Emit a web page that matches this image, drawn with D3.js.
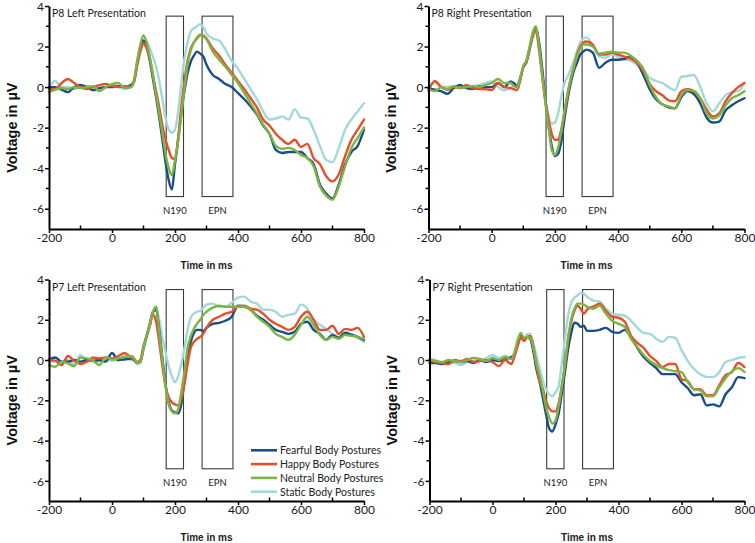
<!DOCTYPE html>
<html><head><meta charset="utf-8">
<script src="https://cdn.jsdelivr.net/npm/d3@7"></script>
<style>body{margin:0;background:#fff;} svg{display:block;}</style>
</head><body><svg id="chart" width="755" height="543"></svg>
<script>
// ---------- DATA ----------
const times = [-200,-180,-160,-140,-120,-100,-80,-60,-40,-20,0,20,40,60,70,80,90,100,110,120,130,140,150,160,170,180,190,200,210,220,230,240,250,260,270,280,290,300,320,340,360,380,400,420,440,460,480,500,520,540,560,580,600,620,640,660,680,700,720,740,760,780,800];

const seriesNames = ["Fearful Body Postures","Happy Body Postures","Neutral Body Postures","Static Body Postures"];
const panelTitles = ["P8 Left Presentation","P8 Right Presentation","P7 Left Presentation","P7 Right Presentation"];
const xTickValues = [-200,0,200,400,600,800];
const xMinorTicks = [-100,100,300,500,700];
const yTickValues = [4,2,0,-2,-4,-6];
const yMinorTicks = [3,1,-1,-3,-5];
const windowNames = ["N190","EPN"];
const n190Window = [172,227];
const epnWindow = [286,384];
const windowVoltage = [-5.4,3.5];

const p8LeftFearful = [0,0,-0.13,-0.25,0,0.1,0,-0.15,-0.05,0,0,0.05,0,0.1, 0.3,1.2,1.9,2.3,2.0,1.3,0.4,-0.5,-1.5,-2.6, -3.7,-4.6,-5.05,-3.8,-2.6,-1.25,-0.2,0.7,1.25,1.55, 1.75,1.65,1.5,1.1, 0.6,0.4,0.15,0.0,-0.3, -0.6,-0.95,-1.35,-1.9,-2.3, -3.1,-3.25,-3.2,-3.2,-3.2, -3.5,-3.8,-4.8,-5.25,-5.5, -4.8,-3.8,-3.2,-2.9,-2.1];
const p8LeftHappy = [-0.1,-0.1,0.2,0.4,0.2,0,-0.1,0,0.1,0.15,0.05,0,0.05,0, 0.3,1.1,1.8,2.15,1.9,1.4,0.6,-0.2,-1.0,-1.9, -2.6,-3.1,-3.5,-3.55,-2.5,-1.0,0.3,1.3,1.9,2.2, 2.4,2.55,2.55,2.4, 1.9,1.55,1.1,0.7,0.3, -0.1,-0.55,-1.0,-1.6,-1.9, -2.3,-2.6,-2.8,-2.6,-2.95, -2.8,-3.5,-3.8,-4.4,-4.65, -4.3,-3.4,-2.6,-2.1,-1.6];
const p8LeftNeutral = [-0.25,-0.13,-0.05,-0.1,0,-0.05,0,0.05,-0.2,0,0.15,0.2,-0.05,0, 0.35,1.3,2.1,2.55,2.2,1.5,0.6,-0.4,-1.3,-2.3, -3.3,-4.0,-4.35,-3.6,-2.7,-1.4,-0.1,1.1,1.8,2.2, 2.45,2.6,2.5,2.35, 1.75,1.35,1.0,0.6,0.2, -0.3,-0.8,-1.3,-1.85,-2.3, -2.9,-3.05,-3.0,-3.1,-3.35, -3.5,-3.9,-4.9,-5.35,-5.55, -4.9,-3.9,-3.0,-2.5,-2.0];
const p8LeftStatic = [0,0.3,0,0,-0.1,0,0.05,0,-0.1,0,0.1,0.03,-0.1,0, 0.2,1.0,1.7,2.1,2.25,1.9,1.5,1.0,0.3,-0.6, -1.5,-2.1,-2.25,-2.1,-1.2,0.2,1.4,2.2,2.75,2.9, 3.0,3.1,2.95,2.65, 2.4,2.3,1.85,1.3,0.9, 0.4,-0.1,-0.6,-1.2,-1.6, -1.55,-1.45,-1.6,-1.1,-1.5, -1.55,-2.1,-2.9,-3.6,-3.7, -3.0,-2.1,-1.6,-1.2,-0.8];

const p8RightFearful = [-0.05,-0.13,-0.2,-0.33,-0.05,0.1,-0.05,-0.1,0.03,0,0,0.2,0,0.28, 0.2,0.05,0.4,1.0,1.25,1.9,2.6,2.9,2.2,0.9, -0.6,-1.9,-2.9,-3.4,-3.3,-2.7,-1.6,-0.6,0.2,0.8, 1.2,1.6,1.75,1.85, 1.7,0.95,1.2,1.35,1.35, 1.4,1.5,1.2,0.6,-0.1, -0.6,-0.85,-1.0,-1.05,-0.5, -0.2,-0.35,-0.8,-1.5,-1.75, -1.7,-1.15,-0.9,-0.7,-0.55];
const p8RightHappy = [-0.2,0.3,0,-0.13,0,-0.05,0.1,-0.05,-0.1,-0.1,-0.15,0.2,0,-0.05, -0.1,-0.15,0.3,1.0,1.3,1.9,2.55,2.8,1.8,0.5, -0.7,-1.6,-2.3,-2.6,-2.6,-2.1,-1.3,-0.4,0.4,1.0, 1.6,2.0,2.2,2.25, 2.1,1.6,1.6,1.7,1.6, 1.5,1.4,1.2,0.8,0.15, -0.2,-0.4,-0.65,-0.7,-0.2, -0.1,-0.2,-0.55,-1.1,-1.45, -1.3,-0.7,-0.3,0.0,0.2];
const p8RightNeutral = [-0.13,-0.2,0,-0.1,0.05,-0.05,0,0.05,0,0.1,0.2,0.4,0.2,0.2, 0.05,0.0,0.4,1.05,1.3,2.0,2.7,3.0,2.0,0.6, -0.8,-2.0,-3.1,-3.35,-3.0,-2.2,-1.2,-0.3,0.4,1.0, 1.5,1.9,2.1,2.1, 2.0,1.65,1.7,1.75,1.7, 1.7,1.55,1.3,0.9,0.1, -0.5,-0.85,-0.95,-1.05,-0.4, -0.15,-0.2,-0.55,-1.3,-1.55, -1.4,-0.9,-0.55,-0.4,-0.2];
const p8RightStatic = [0.05,0.2,0.03,0,0.05,0,0.03,0.03,0.1,0.2,0.28,0,-0.15,-0.05, 0.1,0.1,0.5,0.95,1.2,1.8,2.4,2.7,2.0,0.7, -0.6,-1.4,-1.8,-1.75,-1.3,-0.5,0.2,0.5,0.9,1.3, 1.8,2.2,2.4,2.45, 2.05,1.5,1.45,1.6,1.5, 1.35,1.3,1.1,0.85,0.45, 0.3,0.2,0.0,-0.15,0.5, 0.55,0.6,0.0,-0.8,-1.2, -0.8,-0.4,-0.25,-0.2,0.2];

const p7LeftFearful = [0.03,0.13,-0.08,-0.08,0,-0.08,0,-0.03,0,-0.08,0.35,0,0.03,0.08, 0.0,-0.15,-0.1,0.6,1.2,1.8,2.4,2.5,1.5,0.1, -1.2,-2.1,-2.5,-2.6,-2.65,-2.2,-1.0,0.2,0.9,1.35, 1.5,1.5,1.45,1.6, 1.8,1.85,1.95,2.15,2.7, 2.65,2.5,2.2,2.0,1.75, 1.5,1.4,1.3,1.4,1.8, 1.9,1.5,1.3,1.0,1.25, 1.1,1.35,1.25,1.15,1.0];
const p7LeftHappy = [0,-0.03,-0.25,0.2,-0.03,-0.2,-0.08,0.13,0.08,0.13,0.08,0.2,0.35,0.13, 0.05,-0.1,0.0,0.7,1.2,1.7,2.25,1.9,0.9,-0.3, -1.3,-1.85,-2.1,-2.2,-2.25,-1.95,-1.2,-0.2,0.6,0.9, 1.05,1.15,1.3,1.6, 2.0,2.15,2.3,2.4,2.65, 2.7,2.55,2.5,2.3,2.0, 1.8,1.65,1.5,1.65,2.15, 2.4,2.0,1.5,1.5,1.7, 1.3,1.55,1.5,1.6,1.15];
const p7LeftNeutral = [-0.25,-0.33,-0.08,-0.17,-0.3,0.13,0.08,-0.03,-0.25,0.13,0.03,0.08,0.17,0.2, 0.1,-0.15,-0.1,0.6,1.2,1.8,2.4,2.65,1.4,0.0, -1.3,-2.2,-2.55,-2.65,-2.45,-1.6,-0.55,0.6,1.2,1.55, 1.8,2.0,2.25,2.4, 2.6,2.7,2.65,2.65,2.65, 2.65,2.5,2.15,1.9,1.65, 1.3,1.15,1.0,1.25,1.75, 2.15,1.75,1.25,1.0,1.15, 1.05,1.25,1.2,1.15,1.05];
const p7LeftStatic = [-0.08,-0.08,-0.13,0,-0.2,0.25,-0.08,0,-0.08,0,-0.03,0,0.13,0, 0.0,-0.2,-0.1,0.5,1.1,1.7,2.3,2.55,2.0,1.1, 0.4,-0.3,-0.8,-1.1,-0.8,-0.2,0.6,1.5,2.1,2.3, 2.4,2.45,2.6,2.75, 2.8,2.65,2.65,2.85,3.1, 3.15,2.9,2.8,2.5,2.5, 2.4,2.15,2.25,2.3,2.75, 2.55,2.0,1.75,1.55,1.3, 1.15,1.4,1.3,1.1,0.9];

const p7RightFearful = [-0.15,-0.15,-0.2,-0.1,-0.05,-0.1,-0.05,-0.15,0.0,-0.1,0.0,-0.05,0.05,0.15, 0.3,0.8,1.2,1.0,1.15,1.05,0.4,-0.5,-1.1,-1.9, -2.7,-3.4,-3.55,-3.2,-2.65,-1.65,-0.6,0.55,1.35,1.85, 1.8,1.65,1.7,1.45, 1.45,1.5,1.6,1.4,1.35, 1.5,1.1,0.6,0.15,-0.15, -0.4,-0.7,-0.7,-0.7,-1.1, -1.4,-1.75,-1.7,-2.25,-2.2, -2.3,-1.7,-1.35,-0.85,-0.9];
const p7RightHappy = [0.0,-0.1,-0.15,-0.2,0.0,-0.05,0.05,-0.1,-0.05,0.0,-0.1,-0.3,0.0,-0.2, 0.2,0.7,1.15,0.95,1.15,1.2,0.65,-0.3,-1.1,-1.45, -2.05,-2.4,-2.55,-2.55,-2.15,-1.3,-0.25,1.0,1.9,2.45, 2.7,2.55,2.3,2.5, 2.65,2.8,2.45,2.15,2.1, 1.9,1.2,0.85,0.6,0.2, -0.05,-0.35,-0.2,-0.2,-0.95, -1.05,-1.45,-1.45,-1.75,-1.75, -1.25,-0.75,-0.6,-0.15,-0.35];
const p7RightNeutral = [0.0,-0.05,-0.1,0.0,-0.05,-0.1,0.0,0.1,0.05,-0.05,0.1,0.0,0.15,0.05, 0.4,1.0,1.35,1.1,1.15,1.1,0.6,-0.2,-0.8,-1.55, -2.35,-2.85,-3.15,-3.0,-2.3,-1.3,-0.2,1.1,2.05,2.55, 2.8,2.8,2.75,2.65, 2.55,2.7,2.3,1.95,1.8, 1.65,1.05,0.65,0.25,-0.05, -0.25,-0.4,-0.5,-0.55,-0.6, -1.1,-1.45,-1.5,-1.8,-1.8, -1.35,-0.9,-0.55,-0.4,-0.6];
const p7RightStatic = [0.05,0.0,-0.2,-0.1,-0.15,-0.25,-0.1,-0.05,0.0,0.1,0.25,0.1,0.2,0.1, 0.2,0.7,1.1,1.0,1.3,1.3,0.8,0.2,-0.4,-1.05, -1.45,-1.7,-1.8,-1.6,-1.3,-0.15,1.05,2.2,2.85,3.1, 3.2,3.35,3.3,3.15, 2.95,2.9,2.55,2.3,2.25, 2.2,1.95,1.6,1.35,1.3, 1.05,0.9,1.15,1.1,0.5, -0.05,-0.45,-0.7,-0.85,-0.85, -0.6,-0.1,0.0,0.1,0.15];

// ---------- LAYOUT / STYLE ----------
const colors = ["#1a4f86","#e4502b","#7db443","#a3d8db"];
const drawOrder = [3,0,1,2];
const panels = [
  {title: panelTitles[0], left: 49,    right: 364,   top: 6,     bottom: 229, series: [p8LeftFearful,p8LeftHappy,p8LeftNeutral,p8LeftStatic]},
  {title: panelTitles[1], left: 428.5, right: 744.5, top: 6,     bottom: 229, series: [p8RightFearful,p8RightHappy,p8RightNeutral,p8RightStatic]},
  {title: panelTitles[2], left: 49,    right: 364,   top: 279.5, bottom: 501, series: [p7LeftFearful,p7LeftHappy,p7LeftNeutral,p7LeftStatic], legend: true},
  {title: panelTitles[3], left: 429.5, right: 744.5, top: 279.5, bottom: 501, series: [p7RightFearful,p7RightHappy,p7RightNeutral,p7RightStatic]}
];

const svg = d3.select("#chart");
const labelFont = "Lato, 'Liberation Sans', sans-serif";
const boldFont = "'Liberation Sans', Arial, sans-serif";

panels.forEach(p => {
  const x = d3.scaleLinear().domain([-200, 800]).range([p.left, p.right]);
  const y = d3.scaleLinear().domain([-7, 4]).range([p.bottom, p.top]);
  const g = svg.append("g");

  // windows (boxes)
  [n190Window, epnWindow].forEach((w, i) => {
    g.append("rect")
      .attr("x", x(w[0])).attr("y", y(windowVoltage[1]))
      .attr("width", x(w[1]) - x(w[0])).attr("height", y(windowVoltage[0]) - y(windowVoltage[1]))
      .attr("fill", "none").attr("stroke", "#3a3a3a").attr("stroke-width", 1.1);
    g.append("text")
      .attr("x", x((w[0] + w[1]) / 2)).attr("y", y(-6.1))
      .attr("text-anchor", "middle").attr("dominant-baseline", "central")
      .attr("font-family", labelFont).attr("font-size", 9.5).attr("fill", "#222")
      .text(windowNames[i]);
  });

  // lines
  const line = d3.line().x((d, i) => x(times[i])).y(d => y(d)).curve(d3.curveMonotoneX);
  drawOrder.forEach(si => {
    g.append("path").datum(p.series[si])
      .attr("d", line).attr("fill", "none")
      .attr("stroke", colors[si]).attr("stroke-width", 2.4)
      .attr("stroke-linejoin", "round").attr("stroke-linecap", "round");
  });

  // axes
  const xAxis = g.append("g").attr("transform", `translate(0,${p.bottom})`)
    .call(d3.axisBottom(x).tickValues(xTickValues).tickSize(4).tickSizeOuter(0).tickFormat(d => String(d)));
  const yAxis = g.append("g").attr("transform", `translate(${p.left},0)`)
    .call(d3.axisLeft(y).tickValues(yTickValues).tickSize(4).tickPadding(1).tickSizeOuter(0).tickFormat(d => String(d)));
  [xAxis, yAxis].forEach(a => {
    a.select(".domain").attr("stroke", "#000").attr("stroke-width", 2);
    a.selectAll(".tick line").attr("stroke", "#000").attr("stroke-width", 1.5);
    a.selectAll(".tick text").attr("font-family", labelFont).attr("font-size", 12).attr("fill", "#1a1a1a");
  });
  xAxis.selectAll(".tick text").attr("y", 8.5).attr("dy", "0.35em");
  yAxis.selectAll(".tick text").attr("dy", "0.35em");
  // minor ticks
  g.selectAll(".xminor").data(xMinorTicks).enter().append("line")
    .attr("x1", d => x(d)).attr("x2", d => x(d)).attr("y1", p.bottom).attr("y2", p.bottom - 3.5)
    .attr("stroke", "#000").attr("stroke-width", 1.5);
  g.selectAll(".yminor").data(yMinorTicks).enter().append("line")
    .attr("x1", p.left).attr("x2", p.left - 3).attr("y1", d => y(d)).attr("y2", d => y(d))
    .attr("stroke", "#000").attr("stroke-width", 1.5);

  // titles
  g.append("text").attr("x", p.left + 3).attr("y", y(3.64)).attr("dominant-baseline", "central")
    .attr("font-family", labelFont).attr("font-size", 10.5).attr("fill", "#222").text(p.title);
  g.append("text").attr("x", (p.left + p.right) / 2).attr("y", p.bottom + 36).attr("dominant-baseline", "central")
    .attr("text-anchor", "middle").attr("font-family", boldFont).attr("font-weight", "bold")
    .attr("font-size", 10).attr("fill", "#222").text("Time in ms");
  g.append("text")
    .attr("transform", `translate(${p.left - 37.5},${y(-2)}) rotate(-90)`)
    .attr("dominant-baseline", "central").attr("text-anchor", "middle")
    .attr("font-family", boldFont).attr("font-weight", "bold").attr("font-size", 14.5).attr("fill", "#111")
    .text("Voltage in µV");

  if (p.legend) {
    const lg = g.append("g");
    seriesNames.forEach((name, i) => {
      const yy = 450.3 + i * 13.8;
      lg.append("line").attr("x1", 251).attr("x2", 277).attr("y1", yy).attr("y2", yy)
        .attr("stroke", colors[i]).attr("stroke-width", 2.6);
      lg.append("text").attr("x", 280).attr("y", yy).attr("dominant-baseline", "central")
        .attr("font-family", labelFont).attr("font-size", 10.5).attr("fill", "#222").text(name);
    });
  }
});
</script>
</body></html>
